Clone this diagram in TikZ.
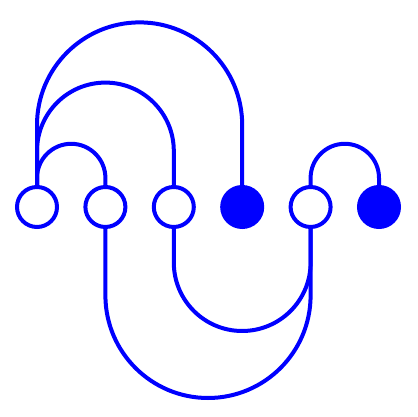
\documentclass[tikz,border=0pt]{standalone}
\begin{document}
\begin{tikzpicture}[x=1pt,y=1pt,
  link/.style={draw=blue,line width=4pt},
  openc/.style={circle,draw=blue,line width=4pt,fill=white,minimum size=40pt,inner sep=0pt,outer sep=0pt},
  fullc/.style={circle,draw=blue,line width=4pt,fill=blue,minimum size=40pt,inner sep=0pt,outer sep=0pt}]
\useasboundingbox (0,0) rectangle (417,417);
\node[openc] (c1) at (37,210) {};
\node[openc] (c2) at (105.4,210) {};
\node[openc] (c3) at (173.8,210) {};
\node[fullc] (c4) at (242.2,210) {};
\node[openc] (c5) at (310.6,210) {};
\node[fullc] (c6) at (379,210) {};
% upper arcs
\draw[link] (c1.north) -- (37,292) arc[start angle=180,end angle=0,radius=102.6] -- (c4.north);
\draw[link] (c1.north) -- (37,266) arc[start angle=180,end angle=0,radius=68.4] -- (c3.north);
\draw[link] (c1.north) -- (37,239) arc[start angle=180,end angle=0,radius=34.2] -- (c2.north);
\draw[link] (c5.north) -- (310.6,239) arc[start angle=180,end angle=0,radius=34.2] -- (c6.north);
% lower arcs
\draw[link] (c3.south) -- (173.8,154.4) arc[start angle=180,end angle=360,radius=68.4] -- (c5.south);
\draw[link] (c2.south) -- (105.4,121.6) arc[start angle=180,end angle=360,radius=102.6] -- (c5.south);
\end{tikzpicture}
\end{document}
